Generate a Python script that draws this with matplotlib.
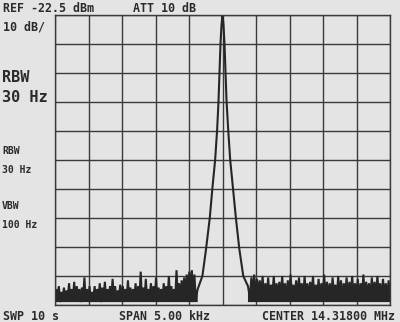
import numpy as np
import matplotlib
matplotlib.use("Agg")
import matplotlib.pyplot as plt

# ---- data (dBm vs offset from center, kHz) ----
ref_level = -22.5
db_per_div = 10
span_khz = 5.0
noise_floor_bottom = -121.5

peak_offsets = [-0.40, -0.37, -0.30, -0.25, -0.19, -0.15, -0.11, -0.08, -0.06, -0.045, -0.03, -0.015, 0.0,
                0.015, 0.03, 0.045, 0.06, 0.085, 0.115, 0.155, 0.20, 0.25, 0.31, 0.38, 0.41]
peak_levels = [-120.5, -117, -112.5, -104, -92.5, -82, -72.5, -62, -52.5, -42, -32.5, -26, -22.5,
               -26, -32.5, -42, -52, -62, -72.5, -82, -92.5, -103, -112.5, -116, -120]

noise_left = [
    -121, -117, -120.5, -116, -121.5, -118, -120, -116.5, -121, -117.5,
    -120, -115, -121, -117, -120.5, -114.5, -121, -116, -120, -117,
    -121.5, -116.5, -120, -113, -121, -117, -120.5, -116, -121, -118,
    -120, -116, -121, -117, -120, -115, -121.5, -116.5, -120, -114.5,
    -121, -117, -120.5, -116, -121, -113.5, -120, -116, -121, -117.5,
    -120, -115.5, -121, -116, -120.5, -117, -121, -114, -120, -116.5,
    -121, -117, -120.5, -115, -121, -116, -120, -111, -121, -116.5,
    -120.5, -113.5, -121, -117, -120, -115, -121, -116, -120.5, -113,
    -121, -116.5, -120, -117, -121, -115, -120.5, -116, -121, -112.5,
    -120, -116, -121, -117, -120.5, -110.5, -120, -115, -121, -114,
    -119.5, -113, -120, -112, -119, -111, -118.5, -110.5, -119, -112,
]
noise_right = [
    -113, -118, -112, -119, -113.5, -118.5, -114, -119.5, -112.5, -120,
    -115, -119.5, -113, -120, -115.5, -119, -112.5, -120.5, -115, -119,
    -114.5, -120, -112.5, -119.5, -115, -120.5, -114, -119, -112, -120,
    -115.5, -119.5, -114, -120, -113, -119, -115, -120.5, -112.5, -119.5,
    -115, -120, -114.5, -119, -112.5, -120.5, -115.5, -119.5, -113.5, -120,
    -115, -119, -112, -120.5, -114.5, -119.5, -115, -120, -113, -119,
    -115.5, -120.5, -112.5, -119.5, -114, -120, -115, -119, -113, -120.5,
    -114.5, -119.5, -112.5, -120, -115, -119, -113.5, -120.5, -115, -119.5,
    -112, -120, -114.5, -119, -115, -120.5, -113, -119.5, -114.5, -120,
    -112.5, -119, -115, -120.5, -113.5, -119.5, -115, -120, -114, -119,
]

W, H = 400, 322
bg = "#e4e4e4"
ink = "#2b2b2b"
trace = "#262626"
fig = plt.figure(figsize=(W / 100, H / 100), dpi=100, facecolor=bg)

L, R, T, B = 55, 390, 15, 305
ax = fig.add_axes([L / W, 1 - B / H, (R - L) / W, (B - T) / H], facecolor=bg)

x_left = np.linspace(-span_khz / 2, peak_offsets[0], len(noise_left), endpoint=False)
x_right = np.linspace(peak_offsets[-1], span_khz / 2, len(noise_right) + 1)[1:]
x = np.concatenate([x_left, peak_offsets, x_right])
y = np.concatenate([noise_left, peak_levels, noise_right])

# the dense analyzer trace fills the noise band in
in_noise = (x <= peak_offsets[1]) | (x >= peak_offsets[-2])
ax.fill_between(x, noise_floor_bottom, np.minimum(y, -112.0), where=in_noise,
                color=trace, lw=0, interpolate=True)
ax.plot(x, y, color=trace, lw=1.5, solid_joinstyle="miter")

ax.set_xlim(-span_khz / 2, span_khz / 2)
ax.set_ylim(ref_level - 10 * db_per_div, ref_level)
ax.set_xticks(np.linspace(-span_khz / 2, span_khz / 2, 11))
ax.set_yticks(np.linspace(ref_level - 10 * db_per_div, ref_level, 11))
ax.grid(True, color="#3a3a3a", lw=1.0)
ax.set_axisbelow(True)
ax.tick_params(length=0, labelbottom=False, labelleft=False)
for s in ax.spines.values():
    s.set_color("#3a3a3a")
    s.set_linewidth(1.0)


def txt(px, py, s, size, va="center"):
    fig.text(px / W, 1 - py / H, s, fontsize=size, family="DejaVu Sans Mono",
             weight="bold", color=ink, ha="left", va=va)


txt(3, 8, "REF -22.5 dBm", 8.4)
txt(133, 8, "ATT 10 dB", 8.4)
txt(3, 27, "10 dB/", 8.4)
txt(2, 78, "RBW", 11)
txt(2, 98, "30 Hz", 11)
txt(2, 151, "RBW", 7)
txt(2, 170, "30 Hz", 7)
txt(2, 206, "VBW", 7)
txt(2, 225, "100 Hz", 7)
txt(3, 316, "SWP 10 s", 8.4)
txt(119, 316, "SPAN 5.00 kHz", 8.4)
txt(262, 316, "CENTER 14.31800 MHz", 8.4)

fig.savefig("out.png", dpi=100, facecolor=bg)
